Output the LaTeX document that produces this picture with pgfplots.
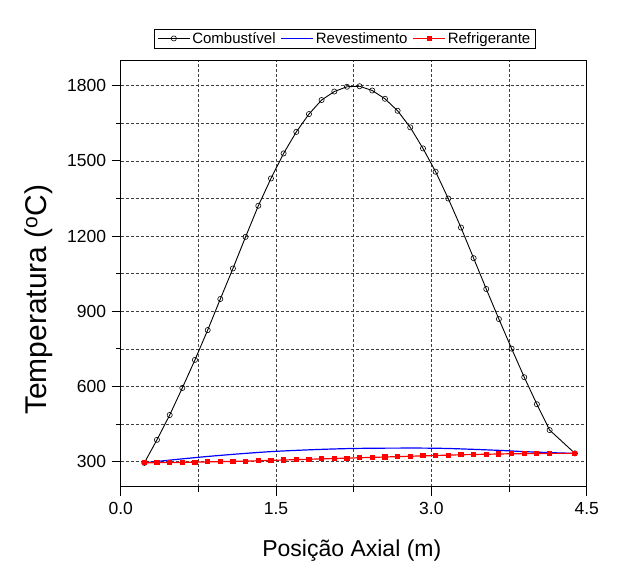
\documentclass[border=0pt]{standalone}
\usepackage{pgfplots}
\pgfplotsset{compat=1.18}
\usepackage{fontspec}
\setmainfont{Liberation Sans}
\begin{document}
\begin{tikzpicture}
\begin{axis}[
  name=ax,
  scale only axis, width=466pt, height=426pt,
  xmin=0, xmax=4.5, ymin=200, ymax=1900,
  xtick={0,1.5,3,4.5}, xticklabels={0.0,1.5,3.0,4.5},
  minor xtick={0.75,2.25,3.75},
  ytick={300,600,900,1200,1500,1800},
  minor ytick={450,750,1050,1350,1650},
  tick align=outside, tick pos=left,
  major tick length=9pt, minor tick length=5pt,
  every tick/.style={black, line width=1pt},
  grid=both,
  major grid style={black!75, dash pattern=on 3pt off 2pt, line width=0.6pt},
  minor grid style={black!75, dash pattern=on 3pt off 2pt, line width=0.6pt},
  axis line style={line width=1.4pt},
  /pgf/number format/assume math mode=true,
  /pgf/number format/1000 sep={},
  tick label style={font=\fontsize{17.5}{18}\selectfont},
  xticklabel style={yshift=-3pt},
  yticklabel style={xshift=-2pt},
  xlabel={Posição Axial (m)},
  ylabel={Temperatura (\textsuperscript{o}C)},
  xlabel style={font=\fontsize{23}{23}\selectfont, at={(axis description cs:0.496,-0.164)}, anchor=base},
  ylabel style={font=\fontsize{30}{30}\selectfont, at={(axis description cs:-0.176,0.439)}, anchor=center, rotate=0},
  legend columns=3,
  legend style={at={(0.481,1.03)}, anchor=south,
    font=\fontsize{15}{15}\selectfont, inner xsep=3pt, inner ysep=1pt,
    /tikz/every even column/.append style={column sep=3pt}},
  legend image code/.code={\draw[mark repeat=2,mark phase=2,#1] plot coordinates {(0pt,0pt) (16pt,0pt) (32pt,0pt)};},
  legend cell align=left,
  clip=false,
]
\addplot[black, line width=0.9pt, mark=o, mark size=2.6pt, mark options={fill=white, line width=0.6pt}] coordinates {
(0.228,295) (0.350,387) (0.473,486) (0.595,594) (0.717,706) (0.840,825)
(0.962,949) (1.084,1071) (1.206,1197) (1.329,1321) (1.451,1430) (1.573,1530)
(1.696,1616) (1.818,1687) (1.940,1743) (2.063,1777) (2.185,1796) (2.307,1798)
(2.429,1781) (2.552,1748) (2.674,1700) (2.796,1634) (2.919,1550) (3.041,1457)
(3.163,1350) (3.286,1234) (3.408,1112) (3.530,989) (3.652,869) (3.775,751)
(3.897,637) (4.019,529) (4.142,426) (4.386,333)
};
\addlegendentry{Combustível}
\addplot[blue, line width=1.2pt, smooth] coordinates {
(0.228,295) (0.473,306) (0.717,316) (0.962,325) (1.206,333) (1.451,340)
(1.696,345) (1.940,349) (2.185,352) (2.429,353.5) (2.674,354) (2.919,354)
(3.163,352.5) (3.408,349) (3.652,345) (3.897,340) (4.142,336) (4.386,333)
};
\addlegendentry{Revestimento}
\addplot[red, line width=1.2pt, mark=square*, mark size=2pt, mark options={fill=red}] coordinates {
(0.228,295) (0.350,296) (0.473,296.5) (0.595,297) (0.717,298) (0.840,299)
(0.962,300) (1.084,301) (1.206,302) (1.329,303.5) (1.451,305) (1.573,306.5)
(1.696,308) (1.818,309.5) (1.940,311) (2.063,312.5) (2.185,314) (2.307,315.5)
(2.429,317) (2.552,318.5) (2.674,320) (2.796,321.5) (2.919,323) (3.041,324.5)
(3.163,326) (3.286,327.5) (3.408,328.5) (3.530,329.5) (3.652,330.5) (3.775,331.5)
(3.897,332) (4.019,332.5) (4.142,333) (4.386,333)
};
\addlegendentry{Refrigerante}
\end{axis}
\useasboundingbox ([xshift=-120.7pt, yshift=-76pt]ax.south west) rectangle ([xshift=32.3pt, yshift=60.7pt]ax.north east);
\end{tikzpicture}
\end{document}
